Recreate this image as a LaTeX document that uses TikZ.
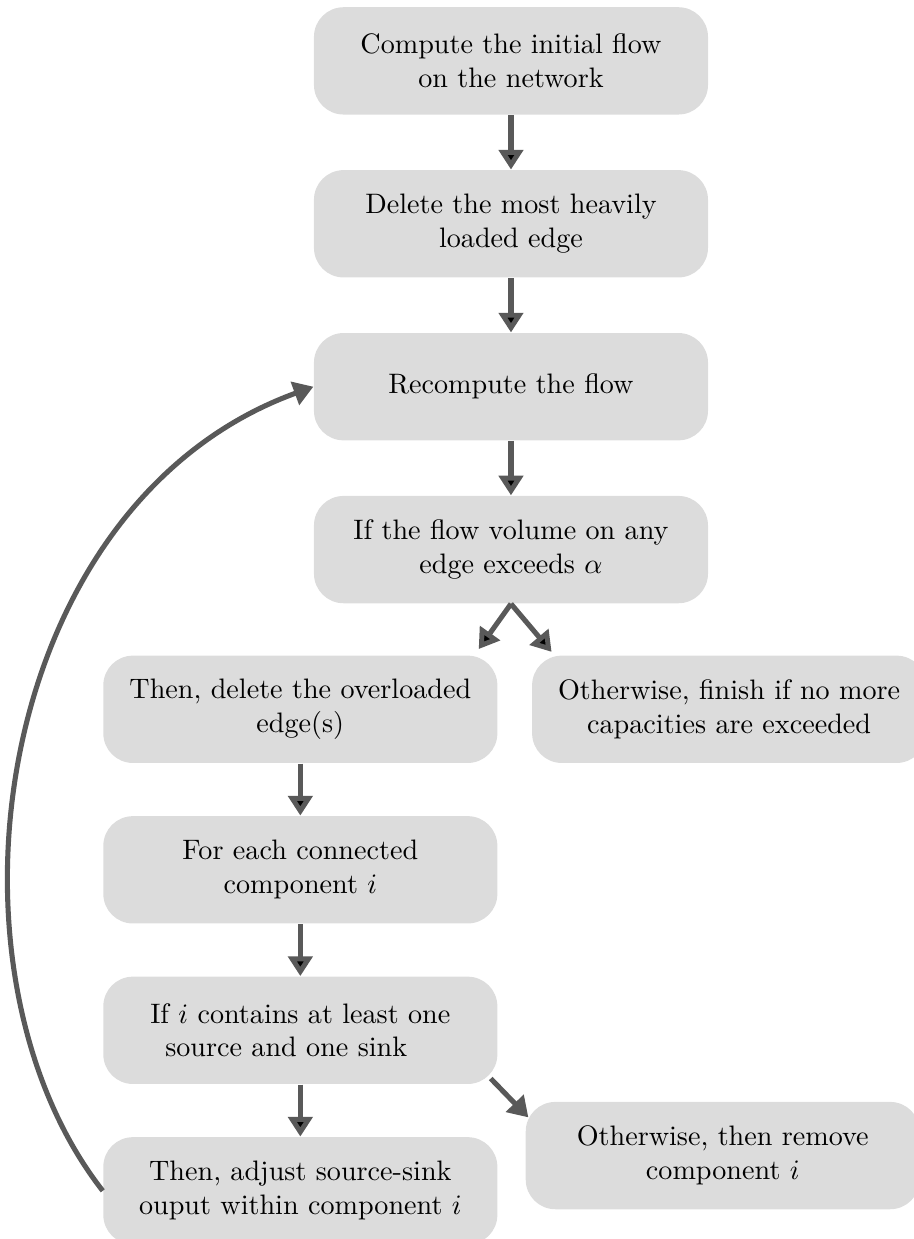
\documentclass[tikz,border=0pt]{standalone}
\usepackage{amssymb}
\usetikzlibrary{arrows.meta,positioning}
\definecolor{boxgray}{RGB}{220,220,220}
\definecolor{arrgray}{RGB}{89,89,89}

\begin{document}
\begin{tikzpicture}[
    node distance = 6.8mm and 4.2mm,
       arr/.style = {line width=1.8pt, draw=arrgray,
                     -{Triangle[length=7pt,width=8.5pt]}},
   stepbox/.style = {rectangle, rounded corners=3.7mm, fill=boxgray,
                     minimum width=49.2mm, minimum height=13.4mm,
                     align=center, inner sep=2pt},
                    ]
\useasboundingbox (0,0) rectangle (11.41,-15.47);
    % main column
    \node[stepbox] (init) at (6.38,-0.76)
        {Compute the initial flow\\ on the network};
    \node[stepbox, below=of init] (del)
        {Delete the most heavily\\ loaded edge};
    \node[stepbox, below=of del] (recomp)
        {Recompute the flow};
    \node[stepbox, below=of recomp] (exceed)
        {If the flow volume on any\\ edge exceeds $\alpha$};
    %
    \node[stepbox, below=6.4mm of exceed.south, xshift=-26.3mm] (delover)
        {Then, delete the overloaded\\ edge(s)};
    \node[stepbox, right=of delover] (finish)
        {Otherwise, finish if no more\\ capacities are exceeded};
    %
    \node[stepbox, below=6.5mm of delover] (comp)
        {For each connected\\ component $i$};
    \node[stepbox, below=6.5mm of comp] (contains)
        {If $i$ contains at least one\\ source and one sink\hspace*{10pt}};
    \node[stepbox, below=6.5mm of contains] (adjust)
        {Then, adjust source-sink\\ ouput within component $i$};
    \node[stepbox, below right=2.1mm and 3.4mm of contains.south east] (remove)
        {Otherwise, then remove\\ component $i$};
    %% arrows
    \draw[arr]  (init)     edge (del)
                (del)      edge (recomp)
                (recomp)   edge (exceed)
                (exceed.south) edge ([xshift=-2.4mm,yshift=0.75mm]delover.north east)
                (exceed.south) edge ([xshift=2.5mm,yshift=0.4mm]finish.north west)
                (delover)  edge (comp)
                (comp)     edge (contains)
                (contains) edge (adjust)
                ([xshift=-0.9mm,yshift=0.75mm]contains.south east)
                           to   ([xshift=0.4mm,yshift=-2mm]remove.north west)
                ;
    % loop back
    \draw[arr]  (adjust.west) to[out=128, in=200,
                                 out looseness=0.87, in looseness=1.05] (recomp.west);
\end{tikzpicture}
\end{document}
